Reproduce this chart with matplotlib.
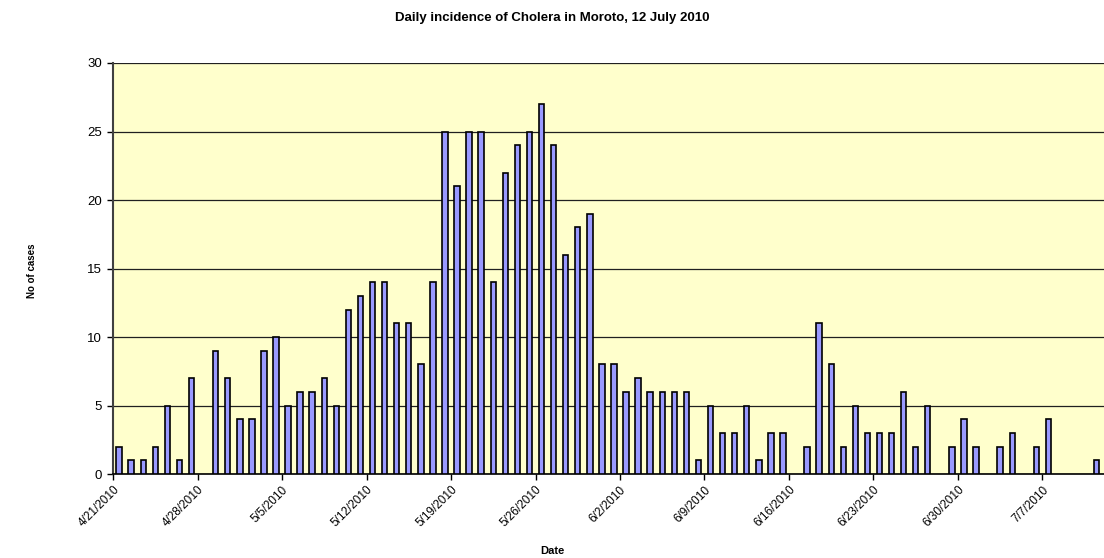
import matplotlib.pyplot as plt
import numpy as np
import pandas as pd

plt.rcParams['font.family'] = ['Liberation Sans', 'DejaVu Sans']

# daily cases from 4/21/2010 to 7/11/2010
start_date = "2010-04-21"
cases = [2, 1, 1, 2, 5, 1, 7, 0, 9, 7, 4, 4, 9, 10, 5, 6, 6, 7, 5, 12,
         13, 14, 14, 11, 11, 8, 14, 25, 21, 25, 25, 14, 22, 24, 25, 27, 24, 16, 18, 19,
         8, 8, 6, 7, 6, 6, 6, 6, 1, 5, 3, 3, 5, 1, 3, 3, 0, 2, 11, 8,
         2, 5, 3, 3, 3, 6, 2, 5, 0, 2, 4, 2, 0, 2, 3, 0, 2, 4, 0, 0,
         0, 1]
dates = pd.date_range(start_date, periods=len(cases), freq="D")
tick_dates = pd.date_range(start_date, periods=12, freq="7D")
tick_labels = [f"{d.month}/{d.day}/{d.year}" for d in tick_dates]

fig = plt.figure(figsize=(11.04, 5.58), dpi=100)
ax = fig.add_axes([0.1024, 0.1505, 0.8976, 0.7366])
ax.set_facecolor("#FFFFCC")

# day index relative to start, bars sit between the tick marks
days = np.array((dates - dates[0]).days, dtype=float)
vals = np.array(cases)
mask = vals > 0
ax.bar(days[mask] + 0.5, vals[mask], width=0.45, color="#9999FF",
       edgecolor="black", linewidth=1.2, zorder=3)

ax.set_xlim(0, len(cases) + 0.1)
ax.set_ylim(0, 30)
ax.set_yticks(range(0, 31, 5))
ax.yaxis.grid(True, color="#202020", linewidth=0.9, zorder=1)
ax.set_axisbelow(True)

tick_pos = np.array((tick_dates - dates[0]).days, dtype=float)
ax.set_xticks(tick_pos)
ax.set_xticklabels(tick_labels, rotation=45, ha="right", rotation_mode="anchor", fontsize=8.5)
ax.tick_params(axis="y", labelsize=9.5, length=4, width=1, direction="out", pad=4)
ax.tick_params(axis="x", length=4, width=1, direction="out", pad=3)

for side in ("top", "right"):
    ax.spines[side].set_visible(False)
ax.spines["left"].set_color("#404040")
ax.spines["left"].set_linewidth(1.5)
ax.spines["bottom"].set_color("black")
ax.spines["bottom"].set_linewidth(1.2)

fig.text(0.5, 0.968, "Daily incidence of Cholera in Moroto, 12 July 2010",
         ha="center", va="center", fontsize=9.5, fontweight="bold")
fig.text(0.5, 0.0125, "Date", ha="center", va="center", fontsize=8, fontweight="bold")
fig.text(0.029, 0.515, "No of cases", ha="center", va="center", rotation=90,
         fontsize=7, fontweight="bold")

fig.savefig("out.png", dpi=100)
